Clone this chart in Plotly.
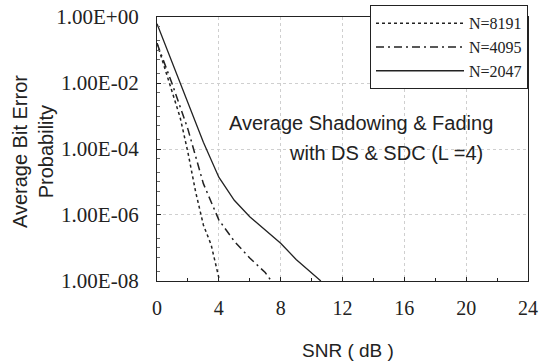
import plotly.graph_objects as go

# SNR (dB) and average bit error probability
snr_8191 = [0, 0.5, 1, 1.5, 2, 2.5, 3, 3.5, 4.05]
ber_8191 = [1.6e-1, 2.8e-2, 4.5e-3, 8.9e-4, 7.9e-5, 5.0e-6, 5.0e-7, 1.26e-7, 1.0e-8]

snr_4095 = [0, 1, 2, 3, 4, 5, 6, 7, 7.4]
ber_4095 = [1.6e-1, 8.9e-3, 4.0e-4, 8.9e-6, 7.1e-7, 1.6e-7, 5.0e-8, 1.8e-8, 1.0e-8]

snr_2047 = [0, 1, 2, 3, 4, 5, 6, 7, 8, 9, 10, 10.6]
ber_2047 = [6.3e-1, 4.0e-2, 2.5e-3, 1.6e-4, 1.4e-5, 2.8e-6, 8.9e-7, 3.5e-7, 1.4e-7, 4.5e-8, 1.8e-8, 1.0e-8]

x_ticks = [0, 4, 8, 12, 16, 20, 24]
y_tickvals = [1, 1e-2, 1e-4, 1e-6, 1e-8]
y_ticktext = ["1.00E+00", "1.00E-02", "1.00E-04", "1.00E-06", "1.00E-08"]

ink = "#222222"
serif = "Liberation Serif"
sans = "Liberation Sans"

fig = go.Figure()
fig.add_trace(go.Scatter(x=snr_8191, y=ber_8191, mode="lines", name="N=8191",
                         line=dict(color=ink, width=1.5, dash="dot")))
fig.add_trace(go.Scatter(x=snr_4095, y=ber_4095, mode="lines", name="N=4095",
                         line=dict(color=ink, width=1.5, dash="8px,4px,2px,4px")))
fig.add_trace(go.Scatter(x=snr_2047, y=ber_2047, mode="lines", name="N=2047",
                         line=dict(color=ink, width=1.3, dash="solid")))

fig.update_layout(
    width=543, height=363,
    margin=dict(l=157, r=15, t=8, b=82, autoexpand=False),
    paper_bgcolor="white", plot_bgcolor="white",
    font=dict(family=serif, size=20, color=ink),
    showlegend=True,
    legend=dict(x=1, xanchor="right", y=1.01, yanchor="top",
                bgcolor="white", bordercolor=ink, borderwidth=1,
                font=dict(family=serif, size=16, color=ink),
                itemwidth=88, tracegroupgap=0),
    xaxis=dict(range=[0, 24], tickvals=x_ticks, showline=True, linecolor=ink,
               linewidth=1.2, mirror=True, ticks="inside", ticklen=4,
               tickcolor=ink, ticklabelstandoff=9,
               minor=dict(dtick=2, ticks="inside", ticklen=3, tickcolor=ink),
               showgrid=True, gridcolor="#cfcfcf", griddash="dot", gridwidth=1,
               zeroline=False, tickfont=dict(family=serif, size=20, color=ink)),
    yaxis=dict(type="log", range=[-8, 0], domain=[0, 0.967],
               tickvals=y_tickvals, ticktext=y_ticktext,
               showline=True, linecolor=ink, linewidth=1.2, mirror=True,
               ticks="inside", ticklen=4, tickcolor=ink, ticklabelstandoff=13,
               minor=dict(ticks="inside", ticklen=3, tickcolor="#666666", showgrid=False),
               showgrid=True, gridcolor="#cfcfcf", griddash="dot", gridwidth=1,
               zeroline=False, tickfont=dict(family=serif, size=21, color=ink)),
    annotations=[
        dict(text="Average Bit Error<br>Probability", textangle=-90,
             xref="paper", yref="paper", x=-0.334, y=0.4725, showarrow=False,
             xanchor="center", yanchor="middle",
             font=dict(family=sans, size=20, color=ink)),
        dict(text="SNR ( dB )", xref="paper", yref="paper", x=0.515, y=-0.253,
             xanchor="center", yanchor="middle", showarrow=False,
             font=dict(family=sans, size=19, color=ink)),
        dict(text="Average Shadowing & Fading", xref="paper", yref="paper",
             x=0.189, xanchor="left", y=0.579, yanchor="middle", showarrow=False,
             font=dict(family=sans, size=20, color=ink)),
        dict(text="with DS & SDC (L =4)", xref="paper", yref="paper",
             x=0.350, xanchor="left", y=0.469, yanchor="middle", showarrow=False,
             font=dict(family=sans, size=20, color=ink)),
    ],
)

fig.write_html("out.html", config={"displayModeBar": False},
               post_script="document.body.style.margin='0';")
